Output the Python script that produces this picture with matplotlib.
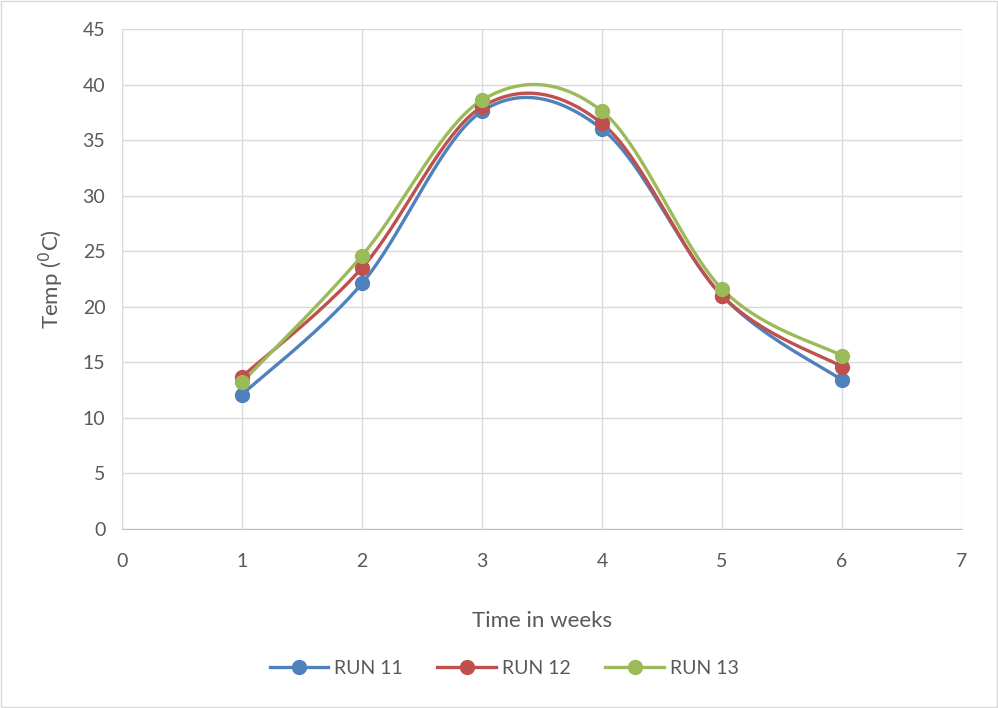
import numpy as np
import matplotlib
matplotlib.use('Agg')
import matplotlib.pyplot as plt
from matplotlib.patches import Rectangle

weeks = [1, 2, 3, 4, 5, 6]
run11 = [12.1, 22.1, 37.6, 36.0, 21.0, 13.4]
run12 = [13.7, 23.5, 38.0, 36.5, 21.0, 14.6]
run13 = [13.2, 24.6, 38.6, 37.6, 21.6, 15.6]
series = [('RUN 11', run11, '#4F81BD'),
          ('RUN 12', run12, '#C0504D'),
          ('RUN 13', run13, '#9BBB59')]


def smooth(x, y, n=40):
    """Catmull-Rom style curve through the points (like spreadsheet smoothed lines)."""
    x = np.asarray(x, float)
    y = np.asarray(y, float)
    px = np.concatenate([[x[0]], x, [x[-1]]])
    py = np.concatenate([[y[0]], y, [y[-1]]])
    xs, ys = [], []
    for i in range(1, len(px) - 2):
        p0, p1, p2, p3 = (np.array([px[j], py[j]]) for j in (i - 1, i, i + 1, i + 2))
        c1 = p1 + (p2 - p0) / 6
        c2 = p2 - (p3 - p1) / 6
        t = np.linspace(0, 1, n)[:, None]
        b = ((1 - t)**3) * p1 + 3 * ((1 - t)**2) * t * c1 + 3 * (1 - t) * t**2 * c2 + t**3 * p2
        xs.append(b[:, 0])
        ys.append(b[:, 1])
    return np.concatenate(xs), np.concatenate(ys)


plt.rcParams['font.family'] = ['Lato', 'DejaVu Sans']
fig = plt.figure(figsize=(9.98, 7.08), dpi=100)
fig.patches.append(Rectangle((0.001, 0.001), 0.998, 0.997, transform=fig.transFigure,
                             fill=False, edgecolor='#d9d9d9', linewidth=1))
ax = fig.add_axes([122 / 998, 1 - 529 / 708, 840 / 998, 500 / 708])

for name, vals, col in series:
    sx, sy = smooth(weeks, vals)
    ax.plot(sx, sy, color=col, linewidth=2.4, solid_capstyle='round', zorder=3)
    ax.plot(weeks, vals, 'o', color=col, markersize=10, zorder=4)
    ax.plot([], [], '-o', color=col, linewidth=2.4, markersize=10, label=name)

ax.set_xlim(0, 7)
ax.set_ylim(0, 45)
ax.set_xticks(range(0, 8))
ax.set_yticks(range(0, 50, 5))
ax.grid(True, color='#d9d9d9', linewidth=1)
ax.set_axisbelow(True)
for s in ['top', 'right']:
    ax.spines[s].set_visible(False)
ax.spines['left'].set_color('#d9d9d9')
ax.spines['bottom'].set_color('#bfbfbf')
ax.tick_params(length=0, labelsize=14, labelcolor='#595959')
ax.tick_params(axis='x', pad=17)
ax.tick_params(axis='y', pad=12)

ax.set_xlabel('Time in weeks', fontsize=16, color='#595959', labelpad=30)
ax.set_ylabel('Temp ($^0$C)', fontsize=16, color='#595959', labelpad=12)

fig.legend(loc='center', bbox_to_anchor=(0.505, 1 - 668 / 708), ncol=3, frameon=False,
           fontsize=14, labelcolor='#595959', handlelength=3.0, columnspacing=1.8,
           handletextpad=0.3)

fig.savefig('out.png', dpi=100)
